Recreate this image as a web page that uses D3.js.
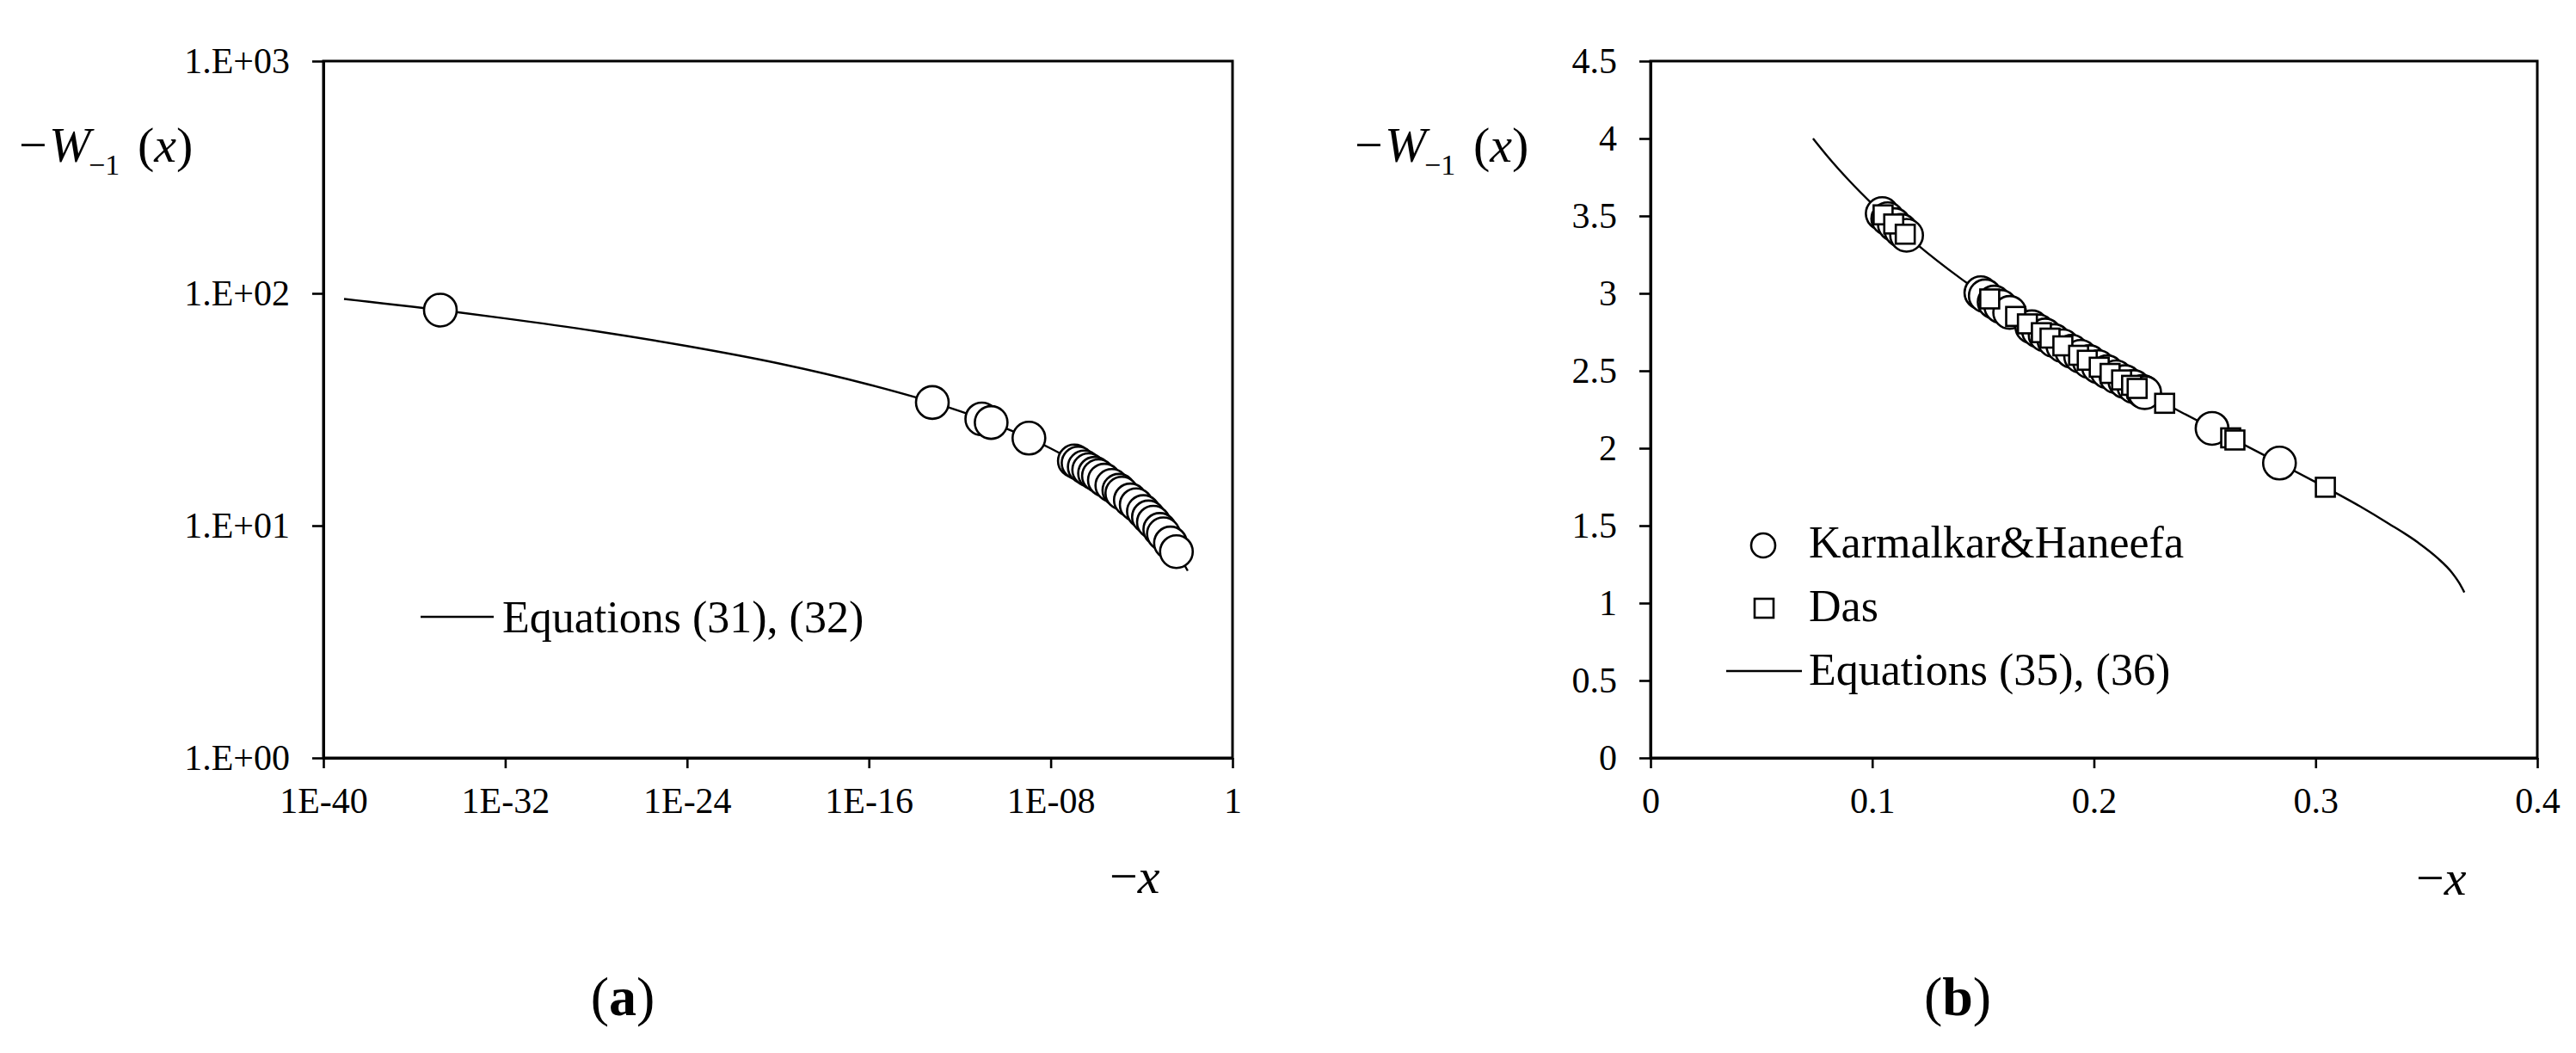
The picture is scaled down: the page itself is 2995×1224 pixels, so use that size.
<!DOCTYPE html>
<html>
<head>
<meta charset="utf-8">
<script src="https://cdn.jsdelivr.net/npm/d3@7/dist/d3.min.js"></script>
<style>
  html, body { margin: 0; padding: 0; background: #fff; }
</style>
</head>
<body>
<div class="figure"></div>
<script>
// figure size
const WIDTH = 2995;
const HEIGHT = 1224;
const FONT = "'Liberation Serif', 'Times New Roman', Tinos, 'DejaVu Serif', serif";

// panel (a): Equations (31), (32) curve
const CURVE_A_X = [8.1e-40, 1e-38, 1e-36, 1e-34, 1e-32, 1e-28, 1e-24, 1e-20, 1e-16, 1e-14,
  1e-12, 1e-10, 1e-8, 1e-6, 1e-5, 1e-4, 1e-3, 3.2e-3, 1.07e-2];
const CURVE_A_Y = [94.6, 92.0, 87.4, 82.7, 78.0, 68.7, 59.3, 50.0, 40.5, 35.8,
  31.1, 26.3, 21.5, 16.6, 14.2, 11.7, 9.12, 7.80, 6.39];

// panel (a): circle markers
const POINTS_A_X = [1.4e-35, 6.2e-14, 9.3e-12, 2.4e-11, 1.1e-9, 1.1e-7, 1.6e-7, 3.0e-7,
  4.7e-7, 8.5e-7, 1.26e-6, 2.3e-6, 4.9e-6, 1.0e-5, 1.35e-5, 3.2e-5, 5.8e-5, 1.2e-4,
  2.0e-4, 3.3e-4, 6.3e-4, 9.1e-4, 1.86e-3, 3.4e-3];
const POINTS_A_Y = [84.7, 33.9, 28.8, 27.8, 23.8, 19.0, 18.6, 17.9,
  17.4, 16.8, 16.4, 15.7, 14.9, 14.2, 13.8, 12.9, 12.3, 11.5,
  10.9, 10.35, 9.63, 9.22, 8.42, 7.73];

// panel (a) ticks
const X_TICKS_A = [1e-40, 1e-32, 1e-24, 1e-16, 1e-8, 1];
const X_LABELS_A = ["1E-40", "1E-32", "1E-24", "1E-16", "1E-08", "1"];
const Y_TICKS_A = [1, 10, 100, 1000];
const Y_LABELS_A = ["1.E+00", "1.E+01", "1.E+02", "1.E+03"];

// panel (b): Equations (35), (36) curve
const CURVE_B_X = [0.0733, 0.08, 0.09, 0.1, 0.12, 0.14, 0.16, 0.18, 0.2, 0.22, 0.24,
  0.26, 0.28, 0.3, 0.32, 0.333, 0.346, 0.355, 0.3613, 0.3652, 0.3671];
const CURVE_B_Y = [4.0, 3.882, 3.722, 3.577, 3.319, 3.095, 2.897, 2.714, 2.542, 2.382, 2.228,
  2.080, 1.931, 1.781, 1.625, 1.513, 1.393, 1.291, 1.200, 1.120, 1.069];

// panel (b): Karmalkar&Haneefa (circles)
const KH_X = [0.1045, 0.107, 0.110, 0.113, 0.1155, 0.149, 0.151, 0.155, 0.158, 0.162,
  0.172, 0.175, 0.178, 0.182, 0.186, 0.19, 0.194, 0.198, 0.202, 0.206, 0.21, 0.214,
  0.218, 0.222, 0.2229, 0.2533, 0.2837];
const KH_Y = [3.515, 3.482, 3.444, 3.406, 3.375, 3.004, 2.984, 2.944, 2.915, 2.877,
  2.784, 2.757, 2.731, 2.695, 2.661, 2.626, 2.593, 2.559, 2.526, 2.494, 2.461, 2.430,
  2.398, 2.367, 2.359, 2.128, 1.904];

// panel (b): Das (squares)
const DAS_X = [0.1049, 0.1097, 0.1149, 0.153, 0.1647, 0.170, 0.1763, 0.1802, 0.186, 0.1931,
  0.197, 0.2024, 0.2073, 0.2125, 0.217, 0.2195, 0.2319, 0.2617, 0.2636, 0.3044];
const DAS_Y = [3.507, 3.448, 3.382, 2.964, 2.851, 2.803, 2.746, 2.711, 2.661, 2.600,
  2.568, 2.523, 2.483, 2.441, 2.406, 2.386, 2.290, 2.067, 2.053, 1.748];

// panel (b) ticks
const X_TICKS_B = [0, 0.1, 0.2, 0.3, 0.4];
const X_LABELS_B = ["0", "0.1", "0.2", "0.3", "0.4"];
const Y_TICKS_B = [0, 0.5, 1, 1.5, 2, 2.5, 3, 3.5, 4, 4.5];
const Y_LABELS_B = ["0", "0.5", "1", "1.5", "2", "2.5", "3", "3.5", "4", "4.5"];

// legend texts
const LEGEND_A = ["Equations (31), (32)"];
const LEGEND_B = ["Karmalkar&Haneefa", "Das", "Equations (35), (36)"];

// initialise svg
const SVG = d3
  .select(".figure")
  .append("svg")
  .attr("width", WIDTH)
  .attr("height", HEIGHT)
  .attr("font-family", FONT)
  .style("display", "block")
  .style("background", "#fff");

// scales for both panels
const XA = d3.scaleLog().domain([1e-40, 1]).range([376, 1433]);
const YA = d3.scaleLog().domain([1, 1000]).range([881, 71]);
const XB = d3.scaleLinear().domain([0, 0.4]).range([1919, 2950]);
const YB = d3.scaleLinear().domain([0, 4.5]).range([881, 71]);

// draw frame, ticks and tick labels of one panel
function drawAxes(x, y, xTicks, xLabels, yTicks, yLabels) {
  const g = SVG.append("g");
  const [x0, x1] = x.range();
  const [y0, y1] = y.range();

  // box round the plot area
  g.append("rect")
    .attr("x", x0)
    .attr("y", y1)
    .attr("width", x1 - x0)
    .attr("height", y0 - y1)
    .attr("fill", "none")
    .attr("stroke", "#000")
    .attr("stroke-width", 3);

  const xAxis = g
    .append("g")
    .attr("transform", `translate(0,${y0})`)
    .call(
      d3.axisBottom(x)
        .tickValues(xTicks)
        .tickFormat((d) => xLabels[xTicks.indexOf(d)])
        .tickSize(12)
        .tickSizeOuter(0)
        .tickPadding(22)
    );

  const yAxis = g
    .append("g")
    .attr("transform", `translate(${x0},0)`)
    .call(
      d3.axisLeft(y)
        .tickValues(yTicks)
        .tickFormat((d) => yLabels[yTicks.indexOf(d)])
        .tickSize(13)
        .tickSizeOuter(0)
        .tickPadding(26)
    );

  // restyle axes to look like the original
  [xAxis, yAxis].forEach((a) => {
    a.attr("font-family", FONT).attr("font-size", 42);
    a.select(".domain").attr("stroke-width", 3);
    a.selectAll(".tick line").attr("stroke-width", 2.6);
    a.selectAll(".tick text").attr("fill", "#000");
  });
}

// -W_-1 (x) axis title
function yTitle(x0, base) {
  const t = SVG.append("text").attr("y", base).attr("font-size", 58);
  t.append("tspan").attr("x", x0).text("\u2212");
  t.append("tspan").attr("x", x0 + 35).attr("font-style", "italic").text("W");
  t.append("tspan").attr("x", x0 + 81).attr("dy", 15).attr("font-size", 34).text("\u22121");
  t.append("tspan").attr("x", x0 + 138).attr("dy", -15).text("(");
  t.append("tspan").attr("font-style", "italic").text("x");
  t.append("tspan").text(")");
}

// -x axis title
function xTitle(x0, base) {
  const t = SVG.append("text").attr("x", x0).attr("y", base).attr("font-size", 58);
  t.append("tspan").text("\u2212");
  t.append("tspan").attr("font-style", "italic").text("x");
}

// (a) / (b) panel caption
function caption(cx, base, letter) {
  const t = SVG.append("text")
    .attr("x", cx)
    .attr("y", base)
    .attr("text-anchor", "middle")
    .attr("font-size", 64);
  t.append("tspan").text("(");
  t.append("tspan").attr("font-weight", "bold").text(letter);
  t.append("tspan").text(")");
}

// draw a line series through the library's line generator
function drawCurve(x, y, xs, ys) {
  const line = d3
    .line()
    .x((d) => x(d[0]))
    .y((d) => y(d[1]))
    .curve(d3.curveMonotoneX);
  SVG.append("path")
    .datum(d3.zip(xs, ys))
    .attr("d", line)
    .attr("fill", "none")
    .attr("stroke", "#000")
    .attr("stroke-width", 2.4);
}

// ---------- panel (a) ----------
drawAxes(XA, YA, X_TICKS_A, X_LABELS_A, Y_TICKS_A, Y_LABELS_A);
drawCurve(XA, YA, CURVE_A_X, CURVE_A_Y);

SVG.append("g")
  .selectAll("circle")
  .data(d3.zip(POINTS_A_X, POINTS_A_Y))
  .enter()
  .append("circle")
  .attr("cx", (d) => XA(d[0]))
  .attr("cy", (d) => YA(d[1]))
  .attr("r", 19)
  .attr("fill", "#fff")
  .attr("stroke", "#000")
  .attr("stroke-width", 2.6);

// legend (a)
SVG.append("line")
  .attr("x1", 489).attr("x2", 574)
  .attr("y1", 717).attr("y2", 717)
  .attr("stroke", "#000")
  .attr("stroke-width", 2.4);
SVG.append("text")
  .attr("x", 584)
  .attr("y", 735)
  .attr("font-size", 52)
  .text(LEGEND_A[0]);

yTitle(22, 188);
xTitle(1290, 1038);
caption(724, 1180, "a");

// ---------- panel (b) ----------
drawAxes(XB, YB, X_TICKS_B, X_LABELS_B, Y_TICKS_B, Y_LABELS_B);
drawCurve(XB, YB, CURVE_B_X, CURVE_B_Y);

// circles first, squares on top
SVG.append("g")
  .selectAll("circle")
  .data(d3.zip(KH_X, KH_Y))
  .enter()
  .append("circle")
  .attr("cx", (d) => XB(d[0]))
  .attr("cy", (d) => YB(d[1]))
  .attr("r", 19)
  .attr("fill", "#fff")
  .attr("stroke", "#000")
  .attr("stroke-width", 2.6);

const SQ = 22;
SVG.append("g")
  .selectAll("rect")
  .data(d3.zip(DAS_X, DAS_Y))
  .enter()
  .append("rect")
  .attr("x", (d) => XB(d[0]) - SQ / 2)
  .attr("y", (d) => YB(d[1]) - SQ / 2)
  .attr("width", SQ)
  .attr("height", SQ)
  .attr("fill", "#fff")
  .attr("stroke", "#000")
  .attr("stroke-width", 2.6);

// legend (b)
const LEG = SVG.append("g");
LEG.append("circle")
  .attr("cx", 2050).attr("cy", 634).attr("r", 14)
  .attr("fill", "#fff").attr("stroke", "#000").attr("stroke-width", 2.6);
LEG.append("rect")
  .attr("x", 2051 - SQ / 2).attr("y", 707 - SQ / 2)
  .attr("width", SQ).attr("height", SQ)
  .attr("fill", "#fff").attr("stroke", "#000").attr("stroke-width", 2.6);
LEG.append("line")
  .attr("x1", 2007).attr("x2", 2095)
  .attr("y1", 780).attr("y2", 780)
  .attr("stroke", "#000").attr("stroke-width", 2.4);
LEG.selectAll("text")
  .data(LEGEND_B)
  .enter()
  .append("text")
  .attr("x", 2103)
  .attr("y", (d, i) => [648, 722, 796][i])
  .attr("font-size", 52)
  .text((d) => d);

yTitle(1575, 188);
xTitle(2809, 1040);
caption(2276, 1180, "b");
</script>
</body>
</html>
